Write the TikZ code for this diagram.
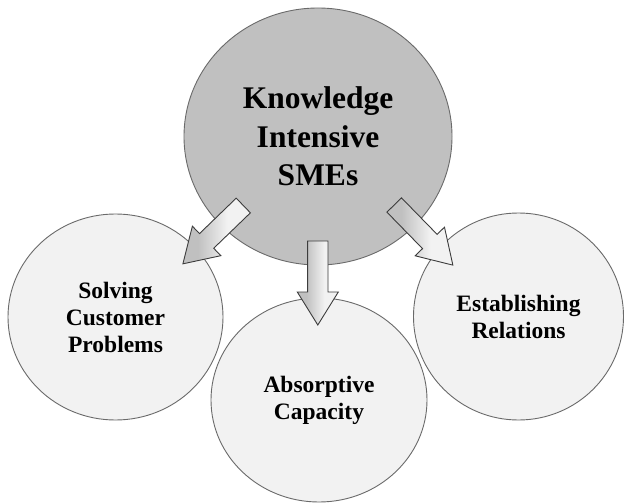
\documentclass[tikz,border=0pt]{standalone}
\usepackage{fontspec}
\setmainfont{Liberation Serif}
\usetikzlibrary{shapes.geometric}

\definecolor{hubfill}{HTML}{C0C0C0}
\definecolor{leaffill}{HTML}{F2F2F2}
\definecolor{rimgray}{HTML}{6A6A6A}
\definecolor{arrowedge}{HTML}{3C3C3C}

% fade along the block arrow: grey at the tail, light at the head
\pgfdeclarehorizontalshading{blockfade}{100bp}{%
  color(0bp)=(hubfill); color(36bp)=(hubfill);
  color(58bp)=(leaffill); color(100bp)=(leaffill)}

\tikzset{
  hub/.style={ellipse, draw=rimgray, line width=0.9pt, fill=hubfill,
    inner sep=0pt, align=center,
    font=\bfseries\fontsize{31.5}{38.5}\selectfont},
  leaf/.style={ellipse, draw=rimgray, line width=0.9pt, fill=leaffill,
    inner sep=0pt, align=center,
    font=\bfseries\fontsize{23.5}{27}\selectfont},
  blockarrow/.style={shading=blockfade, draw=arrowedge, line width=0.9pt,
    line join=miter}
}

% block arrow of length 84 pointing along the local x axis
\newcommand{\blockarrowpath}{%
  (0,-10.2) -- (51,-10.2) -- (51,-20.5) -- (84,0) -- (51,20.5)
  -- (51,10.2) -- (0,10.2) -- cycle}

\begin{document}
\begin{tikzpicture}[x=1pt, y=-1pt]
  \useasboundingbox (0,0) rectangle (624,503);
  \fill[white] (0,0) rectangle (624,503);

  \node[hub, minimum width=268pt, minimum height=257pt] (kis)
    at (318,136.5) {Knowledge\\Intensive\\SMEs};

  \node[leaf, minimum width=215pt, minimum height=206pt] (scp)
    at (115.5,317) {Solving\\Customer\\Problems};
  \node[leaf, minimum width=210pt, minimum height=207pt] (er)
    at (518.5,316.5) {Establishing\\Relations};
  \node[leaf, minimum width=216pt, minimum height=204pt] (ac)
    at (319,400) {Absorptive\\Capacity};

  % arrow tails
  \coordinate (tailL) at (243.3,205.5);
  \coordinate (tailM) at (317.8,241);
  \coordinate (tailR) at (394.2,205);

  \begin{scope}[shift={(tailL)}, rotate=-136]
    \shade[blockarrow] \blockarrowpath;
  \end{scope}
  \begin{scope}[shift={(tailM)}, rotate=-90]
    \shade[blockarrow] \blockarrowpath;
  \end{scope}
  \begin{scope}[shift={(tailR)}, rotate=-45.7]
    \shade[blockarrow] \blockarrowpath;
  \end{scope}
\end{tikzpicture}
\end{document}
